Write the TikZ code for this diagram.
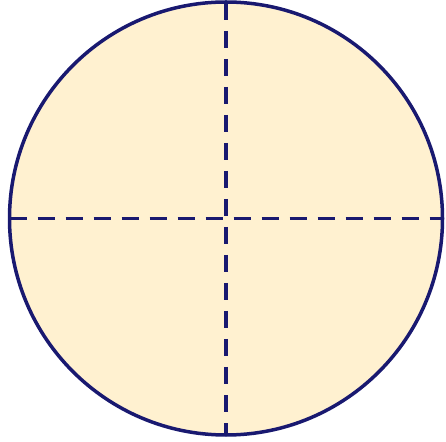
\documentclass[tikz,border=0pt]{standalone}
\definecolor{navy}{HTML}{191970}
\definecolor{cream}{HTML}{FFF1D0}
\begin{document}
\begin{tikzpicture}[x=1pt,y=1pt,
  rim/.style={draw=navy,line width=3.5pt,fill=cream},
  axisline/.style={draw=navy,line width=3.5pt,dash pattern=on 17pt off 11pt}]
\useasboundingbox (0,0) rectangle (446,441);
\coordinate (c) at (226,222.5);
\draw[rim] (c) circle[radius=216.5];
\coordinate (l) at (9.5,222.5);
\coordinate (r) at (442.5,222.5);
\coordinate (t) at (226,438);
\coordinate (b) at (226,7);
\draw[axisline] (l) -- (r);
\draw[axisline] (t) -- (b);
\end{tikzpicture}
\end{document}
